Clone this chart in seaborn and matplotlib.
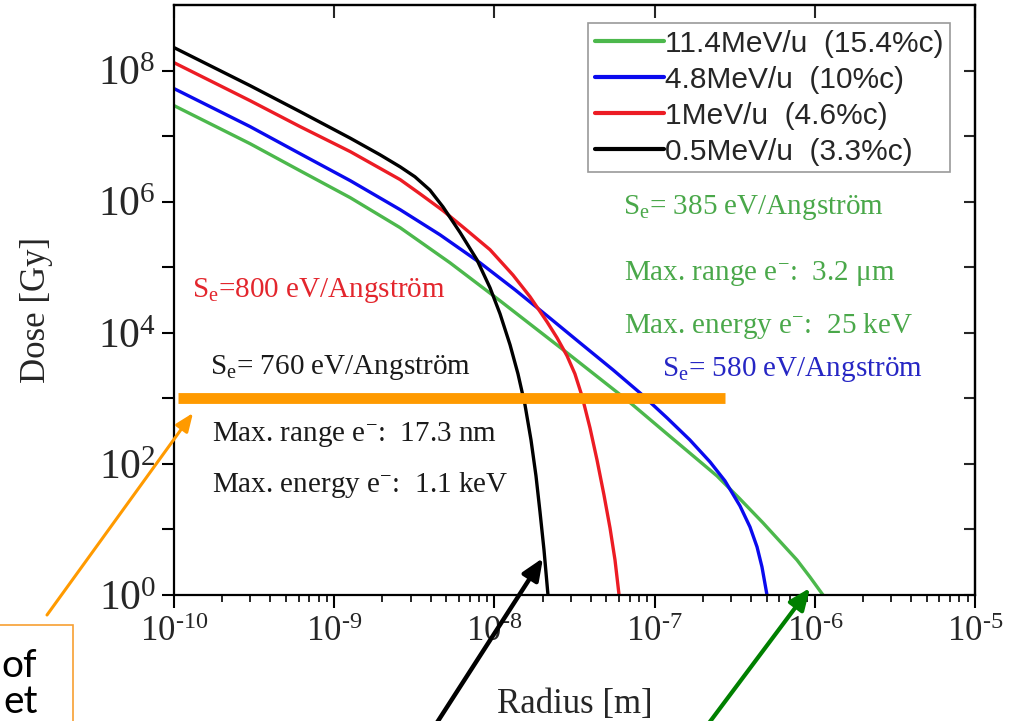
import matplotlib
matplotlib.use("Agg")
import numpy as np
import pandas as pd
import matplotlib.pyplot as plt
import seaborn as sns
from matplotlib.ticker import FixedLocator, FixedFormatter, LogLocator, NullLocator, NullFormatter
from matplotlib.patches import Rectangle, FancyArrowPatch
from matplotlib.font_manager import FontProperties
from matplotlib.mathtext import MathTextParser

# ---- radial dose distributions (radius in m, dose in Gy) -------------------
energy_labels = ["11.4MeV/u  (15.4%c)", "4.8MeV/u  (10%c)",
                 "1MeV/u  (4.6%c)", "0.5MeV/u  (3.3%c)"]

radius_11_4 = [1.0e-10, 2.98e-10, 6.11e-10, 1.26e-9, 2.58e-9, 5.28e-9, 1.084e-8,
               2.84e-8, 4.56e-8, 6.82e-8, 1.195e-7, 2.45e-7, 3.41e-7, 4.75e-7,
               7.74e-7, 9.33e-7, 1.125e-6]
dose_11_4 = [2.92e7, 7.68e6, 2.97e6, 1.15e6, 4.01e5, 1.17e5, 3.08e4,
             4.95e3, 1.99e3, 9.16e2, 2.87e2, 65.6, 29.2, 12.6,
             3.42, 1.88, 1.0]

radius_4_8 = [1.0e-10, 2.98e-10, 6.11e-10, 1.26e-9, 2.58e-9, 4.57e-9, 8.13e-9,
              1.345e-8, 2.13e-8, 3.42e-8, 5.50e-8, 8.11e-8, 1.195e-7, 1.66e-7,
              2.22e-7, 2.75e-7, 3.41e-7, 3.94e-7, 4.36e-7, 4.68e-7, 5.03e-7]
dose_4_8 = [5.31e7, 1.40e7, 5.41e6, 2.09e6, 7.55e5, 3.13e5, 1.17e5,
            4.53e4, 1.82e4, 7.03e3, 2.72e3, 1.21e3, 5.04e2, 2.32e2,
            1.07e2, 55.0, 22.9, 10.9, 5.41, 2.68, 1.0]

radius_1 = [1.0e-10, 2.98e-10, 6.11e-10, 1.26e-9, 2.58e-9, 3.43e-9, 4.78e-9, 6.55e-9,
            9.39e-9, 1.306e-8, 1.668e-8, 2.13e-8, 2.46e-8, 2.84e-8, 3.18e-8, 3.52e-8,
            3.95e-8, 4.37e-8, 4.83e-8, 5.27e-8, 5.66e-8, 6.0e-8]
dose_1 = [1.32e8, 3.48e7, 1.40e7, 5.80e6, 2.17e6, 1.32e6, 7.29e5, 3.87e5,
          1.85e5, 7.60e4, 3.55e4, 1.47e4, 8.39e3, 4.45e3, 2.37e3, 1.09e3,
          3.55e2, 1.15e2, 33.6, 10.5, 3.42, 1.0]

radius_0_5 = [1.0e-10, 2.98e-10, 6.11e-10, 1.26e-9, 1.93e-9, 2.58e-9, 3.19e-9, 3.96e-9,
              4.78e-9, 6.10e-9, 7.78e-9, 9.39e-9, 1.084e-8, 1.252e-8, 1.403e-8,
              1.552e-8, 1.692e-8, 1.818e-8, 1.926e-8, 2.04e-8, 2.16e-8]
dose_0_5 = [2.24e8, 5.90e7, 2.37e7, 9.30e6, 5.20e6, 3.40e6, 2.40e6, 1.50e6,
            8.30e5, 3.40e5, 1.30e5, 4.86e4, 1.95e4, 6.56e3, 2.37e3,
            7.96e2, 2.32e2, 65.6, 18.5, 4.86, 1.0]

# threshold dose marked across the plot
threshold_dose = 1.0e3
threshold_radius = [1.06e-10, 2.75e-7]

# axis ticks
x_decades = [1e-10, 1e-9, 1e-8, 1e-7, 1e-6, 1e-5]
x_exponents = ["-10", "-9", "-8", "-7", "-6", "-5"]
y_decades = [1e0, 1e1, 1e2, 1e3, 1e4, 1e5, 1e6, 1e7, 1e8]
y_tick_labels = [r"$10^{0}$", "", r"$10^{2}$", "", r"$10^{4}$", "", r"$10^{6}$", "", r"$10^{8}$"]

line_colors = ["#4cb84c", "#0a0aee", "#ec1c24", "#000000"]

# ---- assemble long-form table ----------------------------------------------
frames = []
for lab, r, d in zip(energy_labels,
                     [radius_11_4, radius_4_8, radius_1, radius_0_5],
                     [dose_11_4, dose_4_8, dose_1, dose_0_5]):
    frames.append(pd.DataFrame({"radius": r, "dose": d, "beam": lab}))
df = pd.concat(frames, ignore_index=True)

sns.set_style("ticks")
plt.rcParams["font.family"] = ["Liberation Serif", "DejaVu Serif"]
plt.rcParams["mathtext.fontset"] = "custom"
plt.rcParams["mathtext.rm"] = "Liberation Serif"
plt.rcParams["mathtext.it"] = "Liberation Serif:italic"
plt.rcParams["mathtext.bf"] = "Liberation Serif:bold"

# exponent labels with a short hyphen when mathtext supports \text
try:
    MathTextParser("path").parse(r"$10^{\text{-10}}$")
    x_tick_labels = [r"$10^{\text{%s}}$" % e for e in x_exponents]
except Exception:
    x_tick_labels = [r"$10^{%s}$" % e for e in x_exponents]

W, H = 1017, 721
fig = plt.figure(figsize=(W / 100, H / 100), dpi=100)
fig.patch.set_facecolor("white")
AX_L, AX_R, AX_T, AX_B = 174, 975, 5, 595
ax = fig.add_axes([AX_L / W, 1 - AX_B / H, (AX_R - AX_L) / W, (AX_B - AX_T) / H])
ax.set_xscale("log")
ax.set_yscale("log")

palette = dict(zip(energy_labels, line_colors))
sns.lineplot(data=df, x="radius", y="dose", hue="beam", hue_order=energy_labels,
             palette=palette, sort=False, estimator=None, linewidth=2.4, ax=ax)

ax.set_xlim(1e-10, 1e-5)
ax.set_ylim(1e0, 1e9)

# threshold bar
ax.plot(threshold_radius, [threshold_dose, threshold_dose], color="#ff9a00",
        linewidth=7.8, solid_capstyle="butt", zorder=5)

# ---- ticks -----------------------------------------------------------------
ax.xaxis.set_major_locator(FixedLocator(x_decades))
ax.xaxis.set_major_formatter(FixedFormatter(x_tick_labels))
ax.xaxis.set_minor_locator(LogLocator(base=10, subs=np.arange(2, 10), numticks=20))
ax.xaxis.set_minor_formatter(NullFormatter())
ax.yaxis.set_major_locator(FixedLocator(y_decades))
ax.yaxis.set_major_formatter(FixedFormatter(y_tick_labels))
ax.yaxis.set_minor_locator(NullLocator())

ax.tick_params(axis="both", which="major", direction="out", length=9, width=1.5,
               color="black", top=False, right=False)
ax.tick_params(axis="x", which="minor", direction="out", length=5, width=1.4,
               top=False)
ax.tick_params(axis="x", which="major", labelsize=25, pad=6)
ax.tick_params(axis="y", which="major", labelsize=30, pad=4)

for sp in ax.spines.values():
    sp.set_linewidth(1.6)
    sp.set_color("black")

top = ax.secondary_xaxis("top")
top.xaxis.set_major_locator(FixedLocator(x_decades))
top.xaxis.set_major_formatter(NullFormatter())
top.xaxis.set_minor_locator(NullLocator())
top.tick_params(axis="x", which="major", direction="in", length=9, width=1.5,
                labeltop=False)
top.spines["top"].set_linewidth(1.6)

right = ax.secondary_yaxis("right")
right.yaxis.set_major_locator(FixedLocator(y_decades))
right.yaxis.set_major_formatter(NullFormatter())
right.yaxis.set_minor_locator(NullLocator())
right.tick_params(axis="y", which="major", direction="in", length=8, width=1.5,
                  labelright=False)
right.spines["right"].set_linewidth(1.6)

# ---- axis labels -------------------------------------------------------------
ax.set_xlabel("Radius [m]", fontsize=25)
ax.set_ylabel("Dose [Gy]", fontsize=25)
ax.xaxis.set_label_coords(0.5, (AX_B - 688) / (AX_B - AX_T))
ax.yaxis.set_label_coords((53 - AX_L) / (AX_R - AX_L), (AX_B - 310) / (AX_B - AX_T))

# ---- legend ------------------------------------------------------------------
sns.move_legend(ax, "upper right", bbox_to_anchor=(0.969, 0.9695), title=None,
                frameon=True, fancybox=False,
                prop=FontProperties(family="Liberation Sans", size=21.5),
                handlelength=2.3, handletextpad=0.05, labelspacing=0.27,
                borderpad=0.22, borderaxespad=0.0)
leg = ax.get_legend()
leg.get_frame().set_edgecolor("#808080")
leg.get_frame().set_linewidth(1.2)
for ln in leg.get_lines():
    ln.set_linewidth(3.0)


def ax_frac(px, py):
    return ((px - AX_L) / (AX_R - AX_L), (AX_B - py) / (AX_B - AX_T))


# ---- stopping power / electron range notes ---------------------------------
notes = [
    (192, 297, r"S$_\mathrm{e}$=800 eV/Angström", "#e3262d"),
    (210, 374, r"S$_\mathrm{e}$= 760 eV/Angström", "#1a1a1a"),
    (212, 441, r"Max. range e$^{-}$:  17.3 nm", "#1a1a1a"),
    (212, 492, r"Max. energy e$^{-}$:  1.1 keV", "#1a1a1a"),
    (623, 214, r"S$_\mathrm{e}$= 385 eV/Angström", "#4aa84a"),
    (624, 280, r"Max. range e$^{-}$:  3.2 μm", "#4aa84a"),
    (624, 333, r"Max. energy e$^{-}$:  25 keV", "#4aa84a"),
    (662, 376, r"S$_\mathrm{e}$= 580 eV/Angström", "#2626c4"),
]
for px, py, txt, col in notes:
    x, y = ax_frac(px, py)
    ax.text(x, y, txt, transform=ax.transAxes, color=col, fontsize=21,
            ha="left", va="baseline", zorder=6)


# ---- callout arrows and box ---------------------------------------------------
def fp(px, py):
    return (px / W, 1 - py / H)


def arrow(p0, p1, color, lw, hl, hw):
    fig.add_artist(FancyArrowPatch(fp(*p0), fp(*p1), transform=fig.transFigure,
                                   arrowstyle=f"-|>,head_length={hl},head_width={hw}",
                                   mutation_scale=10, color=color, linewidth=lw,
                                   shrinkA=0, shrinkB=0, zorder=10))


arrow((47, 615), (193, 413), "#ff9a00", 2.2, 1.1, 0.45)
arrow((429, 735), (543, 558), "#000000", 3.2, 1.3, 0.55)
arrow((700, 735), (810, 588), "#008000", 3.0, 1.3, 0.55)

fig.add_artist(Rectangle(fp(-40, 760), (73 + 40) / W, (760 - 625) / H,
                         transform=fig.transFigure, fill=False,
                         edgecolor="#f7a032", linewidth=1.2))
fig.text(*fp(1, 677), "of", ha="left", va="baseline",
         fontsize=28, family="Lato", color="black")
fig.text(*fp(3, 713), "et", ha="left", va="baseline",
         fontsize=28, family="Lato", color="black")

fig.savefig("out.png", dpi=100, facecolor="white")
